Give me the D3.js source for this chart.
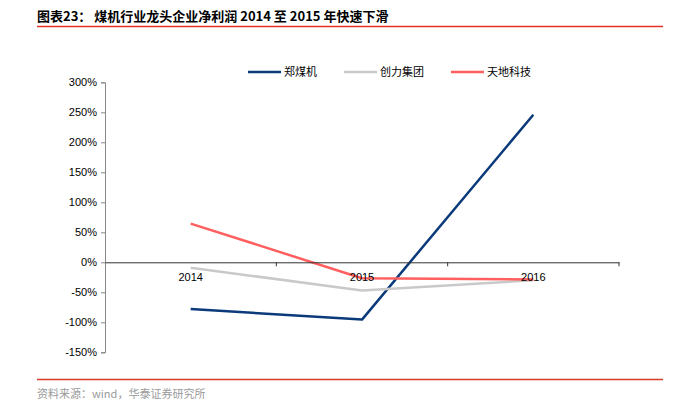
<!DOCTYPE html>
<html><head><meta charset="utf-8">
<script src="https://cdn.jsdelivr.net/npm/d3@7"></script>
<style>body{margin:0;background:#fff}</style>
</head><body>
<svg id="c" width="681" height="416"></svg>
<script>
const categories = ["2014", "2015", "2016"];
const seriesNames = ["郑煤机", "创力集团", "天地科技"];
const zhengmeiji = [-78, -95.5, 246];
const chuangli = [-9, -47, -30];
const tiandi = [64.5, -26.5, -28.5];
const yTicks = [-150, -100, -50, 0, 50, 100, 150, 200, 250, 300];
const colors = ["#0b3a7a", "#c9c9c9", "#ff5f5f"];
const seriesValues = [zhengmeiji, chuangli, tiandi];

const svg = d3.select("#c");
const font = "'Liberation Sans', Arial, 'Noto Sans CJK SC', sans-serif";

// title
svg.append("text").attr("x", 37).attr("y", 21)
  .attr("font-family", "'Noto Sans CJK SC', sans-serif").attr("font-weight", "bold")
  .attr("font-size", 13).attr("fill", "#000")
  .text("图表23：  煤机行业龙头企业净利润 2014 至 2015 年快速下滑");
svg.append("line").attr("x1", 37).attr("x2", 663).attr("y1", 26.5).attr("y2", 26.5)
  .attr("stroke", "#e8302a").attr("stroke-width", 1.3);
svg.append("line").attr("x1", 37).attr("x2", 663).attr("y1", 379.5).attr("y2", 379.5)
  .attr("stroke", "#d8392b").attr("stroke-width", 1.3);
svg.append("text").attr("x", 37).attr("y", 398)
  .attr("font-family", "'Noto Sans CJK SC', sans-serif").attr("font-size", 11)
  .attr("fill", "#9a9a9a").text("资料来源：wind，华泰证券研究所");

const x = d3.scaleBand().domain(categories).range([105, 619]);
const y = d3.scaleLinear().domain([-150, 300]).range([352.3, 82.3]);

// y axis
const ya = svg.append("g").attr("transform", "translate(105,0)")
  .call(d3.axisLeft(y).tickValues(yTicks).tickSize(4).tickFormat(d => d + "%"));
ya.select(".domain").attr("stroke", "#888");
ya.selectAll(".tick line").attr("stroke", "#888");
ya.selectAll("text").attr("font-family", font).attr("font-size", 11).attr("fill", "#000").attr("dx", "-1");

// lines
const line = d3.line().x((d, i) => x(categories[i]) + x.bandwidth() / 2).y(d => y(d));
seriesValues.forEach((vals, k) => {
  svg.append("path").datum(vals).attr("d", line).attr("fill", "none")
    .attr("stroke", colors[k]).attr("stroke-width", 2.5).attr("stroke-linejoin", "round");
});

// x axis at 0
const xa = svg.append("g").attr("transform", `translate(0,${y(0)})`)
  .call(d3.axisBottom(x).tickSize(0).tickSizeOuter(0));
xa.select(".domain").attr("stroke", "#333");
xa.selectAll("text").attr("font-family", font).attr("font-size", 11).attr("fill", "#000").attr("dy", "1.45em");
// ticks at band boundaries
const bounds = categories.slice(1).map(c => x(c)).concat([x.range()[1]]);
svg.append("g").selectAll("line").data(bounds).join("line")
  .attr("x1", d => d).attr("x2", d => d).attr("y1", y(0)).attr("y2", y(0) + 4)
  .attr("stroke", "#333");

// legend
const legX = [248, 344, 451];
seriesNames.forEach((n, k) => {
  svg.append("line").attr("x1", legX[k]).attr("x2", legX[k] + 33).attr("y1", 72).attr("y2", 72)
    .attr("stroke", colors[k]).attr("stroke-width", 2.5);
  svg.append("text").attr("x", legX[k] + 36).attr("y", 76)
    .attr("font-family", "'Noto Sans CJK SC', sans-serif").attr("font-size", 11)
    .attr("fill", "#000").text(n);
});
</script>
</body></html>
